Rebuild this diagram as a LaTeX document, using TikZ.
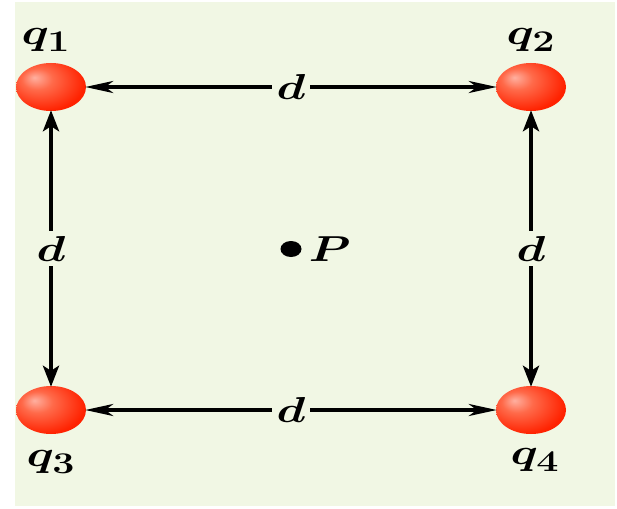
\documentclass[tikz,border=0pt]{standalone}
\usepackage{amsmath,amssymb,bm}
\usepackage{graphicx}
\usepackage{xcolor}
\usepackage{tikz}
\usetikzlibrary{positioning,arrows.meta,shapes.geometric}
\definecolor{paper}{HTML}{F1F7E4}
\definecolor{ballhi}{HTML}{FFB0A0}
\definecolor{ballmid}{HTML}{FF6A4A}
\definecolor{ballred}{HTML}{FF2200}
\pgfdeclareradialshading{redball}{\pgfpoint{-12bp}{10bp}}{%
  color(0bp)=(ballhi); color(11bp)=(ballmid); color(30bp)=(ballred); color(60bp)=(ballred)}
\newcommand{\stretched}[1]{\scalebox{1.9}[1.45]{$\bm{#1}$}}

\begin{document}
\begin{tikzpicture}[
    x=1pt, y=-1pt,
    charge/.style={
        ellipse, draw=none, shading=redball,
        minimum width=70pt, minimum height=48pt, inner sep=0pt
    },
    lbl/.style={font=\Huge, inner sep=0pt},
    dlabel/.style={lbl, fill=paper, inner sep=5pt},
    dim/.style={{Stealth[length=28pt,width=12pt,inset=8pt]}-{Stealth[length=28pt,width=12pt,inset=8pt]},
        line width=3.6pt, shorten <=-1pt, shorten >=-1pt},
    vdim/.style={{Stealth[length=21pt,width=16pt,inset=5pt]}-{Stealth[length=21pt,width=16pt,inset=5pt]},
        line width=4.4pt, shorten <=-1pt, shorten >=-1pt},
    dot/.style={ellipse, fill=black, minimum width=21pt, minimum height=16pt, inner sep=0pt},
]

% ── Background ──
\useasboundingbox (0,0) rectangle (617,508);
\fill[paper] (15,2) rectangle (615,506);

% ── Charges ──
\node[charge] (q1) at (51,87)  {};
\node[charge] (q2) at (531,87) {};
\node[charge] (q3) at (51,410) {};
\node[charge] (q4) at (531,410) {};

\node[lbl] (q1lbl) at (46,40)  {\stretched{q_1}};
\node[lbl] (q2lbl) at (531,40) {\stretched{q_2}};
\node[lbl] (q3lbl) at (51,462) {\stretched{q_3}};
\node[lbl] (q4lbl) at (535,460) {\stretched{q_4}};

% ── Distances ──
\draw[dim]  (q1) -- node[dlabel] {\stretched{d}} (q2);
\draw[dim]  (q3) -- node[dlabel] {\stretched{d}} (q4);
\draw[vdim] (q1) -- node[dlabel] {\stretched{d}} (q3);
\draw[vdim] (q2) -- node[dlabel] {\stretched{d}} (q4);

% ── Point P ──
\node[dot] (P) at (291,249) {};
\node[lbl, right=7pt of P] (Plbl) {\stretched{P}};

\end{tikzpicture}
\end{document}
